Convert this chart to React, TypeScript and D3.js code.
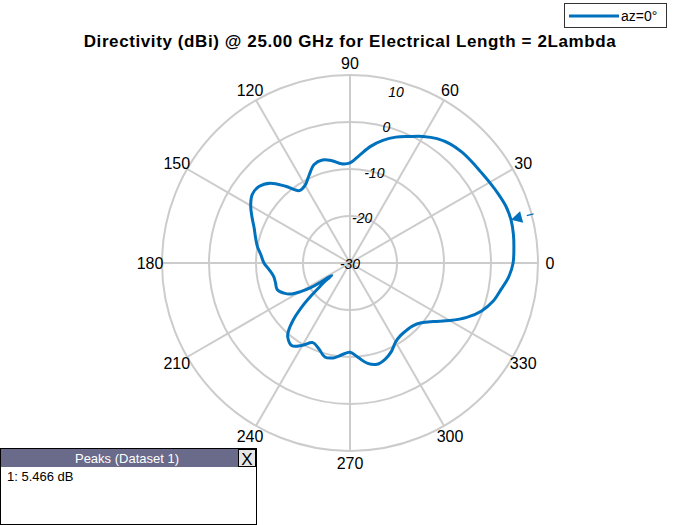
import React, { useEffect, useRef } from 'react';
import * as d3 from 'd3';

// azimuth angle (deg, counterclockwise from 0) and directivity (dBi)
const angles = [
  0, 5, 10, 15, 20, 25, 30, 35, 40, 45, 50, 55, 60, 65, 70, 75, 80, 85, 90, 95,
  100, 105, 110, 115, 120, 125, 130, 135, 140, 145, 150, 155, 160, 165, 170, 175,
  180, 185, 190, 195, 200, 205, 208, 210, 212, 213, 214, 215, 216.5, 218, 220, 222,
  225, 228, 230, 235, 240, 245, 250, 255, 260, 265, 270, 275, 280, 285, 290, 295,
  300, 305, 310, 315, 320, 325, 330, 335, 340, 345, 350, 355,
];
const directivity = [
  4.7, 5.0, 5.3, 5.47, 5.3, 4.8, 4.3, 3.9, 3.7, 3.5, 3.1, 2.3, 1.1, -0.3, -1.5, -3.0, -4.8, -7.0, -8.7, -8.8,
  -7.9, -7.3, -7.7, -9.4, -10.9, -11.2, -8.7, -6.0, -4.7, -4.6, -5.6, -7.0, -8.3, -9.2, -10.0, -11.0,
  -11.7, -12.8, -13.5, -13.6, -13.5, -14.7, -16.0, -17.7, -20.0, -22.3, -25.3, -24.7, -23.2, -21.9, -19.4, -16.6,
  -13.0, -10.4, -9.4, -8.5, -9.8, -11.3, -10.6, -9.3, -9.5, -10.4, -11.0, -9.8, -8.3, -7.7, -8.2, -9.2,
  -10.6, -11.2, -11.3, -11.1, -10.2, -8.3, -5.5, -2.6, -0.2, 1.5, 2.6, 3.9,
];

const angleTicks = [0, 30, 60, 90, 120, 150, 180, 210, 240, 270, 300, 330];
const radialTicks = [-30, -20, -10, 0, 10];
const peakAngle = 15;
const peakValue = 5.466;
const seriesLabel = 'az=0°';
const chartTitle = 'Directivity (dBi) @ 25.00 GHz for Electrical Length = 2Lambda';

const blue = '#0072BD';
const grid = '#cccccc';
const font = '"Liberation Sans", Arial, Helvetica, sans-serif';

export default function App() {
  const ref = useRef<SVGSVGElement | null>(null);

  useEffect(() => {
    if (!ref.current) return;
    const svg = d3.select(ref.current);
    svg.selectAll('*').remove();

    const cx = 350;
    const cy = 263;
    const outer = 188;
    const rad = (deg: number) => (deg * Math.PI) / 180;

    const r = d3.scaleLinear().domain([-30, 10]).range([0, outer]).clamp(true);

    // title
    svg.append('text')
      .attr('x', cx).attr('y', 47)
      .attr('text-anchor', 'middle')
      .attr('font-family', font).attr('font-size', 17).attr('font-weight', 'bold')
      .attr('letter-spacing', 0.6)
      .text(chartTitle);

    const g = svg.append('g').attr('transform', `translate(${cx},${cy})`);

    // rings
    g.selectAll('circle.ring')
      .data(radialTicks.filter(d => r(d) > 0))
      .enter().append('circle')
      .attr('class', 'ring')
      .attr('r', d => r(d))
      .attr('fill', 'none')
      .attr('stroke', grid)
      .attr('stroke-width', 2);

    // spokes
    g.selectAll('line.spoke')
      .data(angleTicks)
      .enter().append('line')
      .attr('class', 'spoke')
      .attr('x1', 0).attr('y1', 0)
      .attr('x2', d => outer * Math.cos(rad(d)))
      .attr('y2', d => -outer * Math.sin(rad(d)))
      .attr('stroke', grid)
      .attr('stroke-width', 2);

    // angle labels
    g.selectAll('text.ang')
      .data(angleTicks)
      .enter().append('text')
      .attr('class', 'ang')
      .attr('x', d => 200 * Math.cos(rad(d)))
      .attr('y', d => -200 * Math.sin(rad(d)))
      .attr('dy', '0.36em')
      .attr('text-anchor', 'middle')
      .attr('font-family', font).attr('font-size', 16)
      .text(d => d);

    // radial labels along 75 deg
    g.selectAll('text.rad')
      .data(radialTicks)
      .enter().append('text')
      .attr('class', 'rad')
      .attr('x', d => Math.min(r(d), outer - 10) * Math.cos(rad(75)))
      .attr('y', d => -Math.min(r(d), outer - 10) * Math.sin(rad(75)))
      .attr('dy', '0.4em')
      .attr('text-anchor', 'middle')
      .attr('font-family', font).attr('font-size', 14).attr('font-style', 'italic')
      .text(d => d);

    // pattern
    const line = d3.lineRadial<number>()
      .angle((_, i) => Math.PI / 2 - rad(angles[i]))
      .radius(d => r(d))
      .curve(d3.curveCatmullRomClosed.alpha(0.5));

    g.append('path')
      .datum(directivity)
      .attr('d', line)
      .attr('fill', 'none')
      .attr('stroke', blue)
      .attr('stroke-width', 3)
      .attr('stroke-linejoin', 'round');

    // peak marker
    const pr = r(peakValue);
    const a = rad(peakAngle);
    const ux = Math.cos(a);
    const uy = -Math.sin(a);
    const px = pr * ux;
    const py = pr * uy;
    const len = 11;
    const half = 6;
    const bx = px + ux * len;
    const by = py + uy * len;
    g.append('path')
      .attr('d', `M${px},${py}L${bx - uy * half},${by + ux * half}L${bx + uy * half},${by - ux * half}Z`)
      .attr('fill', blue);
    g.append('line')
      .attr('x1', (outer - 5) * ux).attr('y1', (outer - 5) * uy)
      .attr('x2', (outer + 2) * ux).attr('y2', (outer + 2) * uy)
      .attr('stroke', blue).attr('stroke-width', 1.2);

    // legend
    const lg = svg.append('g');
    lg.append('rect')
      .attr('x', 564.5).attr('y', 3.5).attr('width', 102).attr('height', 24)
      .attr('fill', 'white').attr('stroke', '#333').attr('stroke-width', 1);
    lg.append('line')
      .attr('x1', 569).attr('x2', 619).attr('y1', 16).attr('y2', 16)
      .attr('stroke', blue).attr('stroke-width', 3);
    lg.append('text')
      .attr('x', 621).attr('y', 21)
      .attr('font-family', font).attr('font-size', 14)
      .text(seriesLabel);

    // peaks table
    const pt = svg.append('g');
    pt.append('rect')
      .attr('x', 0.5).attr('y', 448.5).attr('width', 256).attr('height', 76)
      .attr('fill', 'white').attr('stroke', '#000').attr('stroke-width', 1);
    pt.append('rect')
      .attr('x', 1).attr('y', 449).attr('width', 255).attr('height', 18)
      .attr('fill', '#6a6a8a');
    pt.append('text')
      .attr('x', 127).attr('y', 463)
      .attr('text-anchor', 'middle')
      .attr('font-family', font).attr('font-size', 13).attr('fill', 'white')
      .text('Peaks (Dataset 1)');
    pt.append('rect')
      .attr('x', 238.5).attr('y', 449.5).attr('width', 17).attr('height', 17)
      .attr('fill', '#e6e6e6').attr('stroke', '#000').attr('stroke-width', 1);
    pt.append('text')
      .attr('x', 247).attr('y', 465)
      .attr('text-anchor', 'middle')
      .attr('font-family', font).attr('font-size', 17)
      .text('X');
    pt.append('text')
      .attr('x', 7).attr('y', 481)
      .attr('font-family', font).attr('font-size', 13)
      .text(`1: ${peakValue.toFixed(3)} dB`);
  }, []);

  return (
    <svg
      ref={ref}
      width={700}
      height={525}
      style={{ position: 'absolute', left: 0, top: 0, background: 'white' }}
    />
  );
}
